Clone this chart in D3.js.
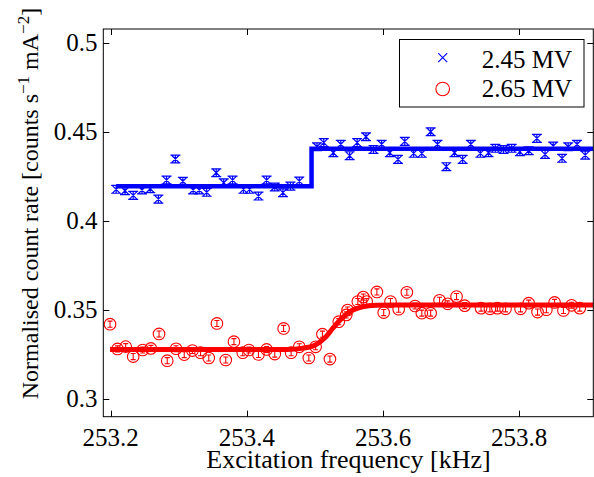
<!DOCTYPE html>
<html>
<head>
<meta charset="utf-8">
<script src="https://cdn.jsdelivr.net/npm/d3@7"></script>
<style>
  html, body { margin: 0; padding: 0; background: #fff; }
  svg { display: block; font-family: "Liberation Serif", "Times New Roman", serif; }
</style>
</head>
<body>
<svg id="chart" width="594" height="477"></svg>
<script>
// Measured count rates at 2.45 MV (blue, crosses)
const blueFreq = [253.208, 253.221, 253.233, 253.246, 253.258, 253.270, 253.282, 253.295, 253.306, 253.321,
  253.330, 253.341, 253.355, 253.366, 253.379, 253.395, 253.404, 253.417, 253.429, 253.441, 253.453, 253.464, 253.477,
  253.503, 253.513, 253.527, 253.538, 253.551, 253.562, 253.575, 253.586, 253.598, 253.610, 253.622, 253.632,
  253.645, 253.657, 253.670, 253.680, 253.693, 253.705, 253.717, 253.729, 253.743, 253.755, 253.765, 253.777,
  253.789, 253.801, 253.814, 253.826, 253.838, 253.850, 253.863, 253.872, 253.885, 253.897];
const blueRate = [0.4177, 0.4169, 0.4143, 0.4173, 0.4180, 0.4122, 0.4229, 0.4347, 0.4222, 0.4173,
  0.4173, 0.4160, 0.4270, 0.4214, 0.4229, 0.4177, 0.4177, 0.4139, 0.4229, 0.4190, 0.4158, 0.4195, 0.4223,
  0.4416, 0.4439, 0.4382, 0.4430, 0.4366, 0.4439, 0.4472, 0.4401, 0.4430, 0.4382, 0.4345, 0.4446,
  0.4379, 0.4379, 0.4500, 0.4430, 0.4304, 0.4382, 0.4345, 0.4430, 0.4379, 0.4382, 0.4407, 0.4401,
  0.4407, 0.4388, 0.4394, 0.4463, 0.4373, 0.4420, 0.4351, 0.4416, 0.4430, 0.4369];
const blueErr = 0.0022;

// Measured count rates at 2.65 MV (red, circles)
const redFreq = [253.199, 253.210, 253.222, 253.233, 253.247, 253.259, 253.271, 253.283, 253.296, 253.308,
  253.320, 253.332, 253.344, 253.356, 253.369, 253.381, 253.394, 253.403, 253.417, 253.429, 253.441, 253.454,
  253.465, 253.477, 253.491, 253.501, 253.511, 253.522, 253.535, 253.546, 253.548, 253.563, 253.571, 253.576,
  253.591, 253.601, 253.611, 253.623, 253.635, 253.647, 253.657, 253.670, 253.683, 253.695, 253.708,
  253.720, 253.744, 253.757, 253.768, 253.780, 253.802, 253.814, 253.827, 253.840, 253.852, 253.865, 253.877, 253.889];
const redRate = [0.3420, 0.3281, 0.3294, 0.3238, 0.3275, 0.3284, 0.3365, 0.3215, 0.3282, 0.3249,
  0.3272, 0.3260, 0.3230, 0.3424, 0.3219, 0.3322, 0.3260, 0.3275, 0.3250, 0.3278, 0.3252, 0.3396,
  0.3260, 0.3293, 0.3230, 0.3293, 0.3364, 0.3224, 0.3434, 0.3472, 0.3499, 0.3547, 0.3572, 0.3547,
  0.3601, 0.3485, 0.3547, 0.3504, 0.3599, 0.3522, 0.3482, 0.3482, 0.3554, 0.3534, 0.3575,
  0.3524, 0.3510, 0.3506, 0.3510, 0.3506, 0.3506, 0.3538, 0.3488, 0.3501, 0.3542, 0.3497, 0.3526, 0.3510];
const redErr = 0.0017;

// Fitted curves
const blueFitFreq = [253.208, 253.495, 253.495, 253.909];
const blueFitRate = [0.4194, 0.4194, 0.4405, 0.4405];
const redFitFreq = [253.199, 253.460, 253.480, 253.500, 253.515, 253.527, 253.540, 253.555, 253.570, 253.590, 253.620, 253.909];
const redFitRate = [0.3278, 0.3278, 0.3284, 0.3302, 0.3345, 0.3400, 0.3455, 0.3498, 0.3518, 0.3526, 0.3528, 0.3528];

// Axis ticks and labels
const xTicks = [253.2, 253.4, 253.6, 253.8];
const yTicks = [0.3, 0.35, 0.4, 0.45, 0.5];
const legendLabels = ["2.45 MV", "2.65 MV"];

const svg = d3.select("#chart");
const margin = {left: 103.3, top: 29, right: 0.7, bottom: 60.3};
const W = 594, H = 477;
const x = d3.scaleLinear().domain([253.1891, 253.9089]).range([margin.left, W - margin.right]);
const y = d3.scaleLinear().domain([0.29006, 0.50769]).range([H - margin.bottom, margin.top]);

const BLUE = "#0000ff", RED = "#ff0000";
const FS = 25;

const clipId = "plotclip";
svg.append("defs").append("clipPath").attr("id", clipId)
  .append("rect")
  .attr("x", margin.left).attr("y", margin.top)
  .attr("width", W - margin.left - margin.right)
  .attr("height", H - margin.top - margin.bottom);

const plot = svg.append("g").attr("clip-path", `url(#${clipId})`);

// Fit lines
const line = d3.line().x(d => x(d[0])).y(d => y(d[1]));
plot.append("path")
  .attr("d", line(blueFitFreq.map((f, i) => [f, blueFitRate[i]])))
  .attr("fill", "none").attr("stroke", BLUE).attr("stroke-width", 4.5);
plot.append("path")
  .attr("d", line.curve(d3.curveMonotoneX)(redFitFreq.map((f, i) => [f, redFitRate[i]])))
  .attr("fill", "none").attr("stroke", RED).attr("stroke-width", 5);

// Blue crosses with error bars
const blueG = plot.append("g").attr("stroke", BLUE).attr("stroke-width", 1.2).attr("fill", "none");
blueFreq.forEach((f, i) => {
  const cx = x(f), cy = y(blueRate[i]);
  const top = y(blueRate[i] + blueErr), bot = y(blueRate[i] - blueErr);
  const cw = 5, m = 4;
  blueG.append("path").attr("d",
    `M${cx},${top}V${bot}M${cx - cw},${top}H${cx + cw}M${cx - cw},${bot}H${cx + cw}` +
    `M${cx - m},${cy - m}L${cx + m},${cy + m}M${cx - m},${cy + m}L${cx + m},${cy - m}`);
});

// Red circles with error bars
const redG = plot.append("g").attr("stroke", RED).attr("stroke-width", 1.1).attr("fill", "none");
redFreq.forEach((f, i) => {
  const cx = x(f), cy = y(redRate[i]);
  const top = y(redRate[i] + redErr), bot = y(redRate[i] - redErr);
  const cw = 2.5;
  redG.append("path").attr("d",
    `M${cx},${top}V${bot}M${cx - cw},${top}H${cx + cw}M${cx - cw},${bot}H${cx + cw}`);
  redG.append("circle").attr("cx", cx).attr("cy", cy).attr("r", 5.8);
});

// Axes box with inward ticks on all sides
const axG = svg.append("g").attr("stroke", "#000").attr("fill", "none").attr("stroke-width", 1);
const x0 = margin.left, x1 = W - margin.right, y0 = H - margin.bottom, y1 = margin.top;
axG.append("rect").attr("x", x0).attr("y", y1).attr("width", x1 - x0).attr("height", y0 - y1);
const TL = 6;
xTicks.forEach(t => {
  const px = Math.round(x(t)) + 0.5;
  axG.append("path").attr("d", `M${px},${y0}V${y0 - TL}M${px},${y1}V${y1 + TL}`);
});
yTicks.forEach(t => {
  const py = Math.round(y(t)) + 0.5;
  axG.append("path").attr("d", `M${x0},${py}H${x0 + TL}M${x1},${py}H${x1 - TL}`);
});

// Tick labels
const fmtX = d3.format(".1f");
svg.append("g").selectAll("text").data(xTicks).join("text")
  .attr("x", d => x(d)).attr("y", 446)
  .attr("text-anchor", "middle").attr("font-size", FS).text(d => fmtX(d));
svg.append("g").selectAll("text").data(yTicks).join("text")
  .attr("x", 97.5).attr("y", d => y(d)).attr("dy", "0.33em")
  .attr("text-anchor", "end").attr("font-size", FS).text(d => String(d));

// Axis titles
svg.append("text").attr("x", 348.5).attr("y", 468)
  .attr("text-anchor", "middle").attr("font-size", 26)
  .text("Excitation frequency [kHz]");

const yl = svg.append("text")
  .attr("transform", "translate(38,203.5) rotate(-90)")
  .attr("text-anchor", "middle").attr("font-size", 24);
yl.append("tspan").text("Normalised count rate [counts s");
yl.append("tspan").attr("dy", -9).attr("font-size", 17).text("\u22121");
yl.append("tspan").attr("dy", 9).text(" mA");
yl.append("tspan").attr("dy", -9).attr("font-size", 17).text("\u22122");
yl.append("tspan").attr("dy", 9).text("]");

// Legend
const lg = svg.append("g");
lg.append("rect").attr("x", 399.5).attr("y", 39.5).attr("width", 184.5).attr("height", 67.5)
  .attr("fill", "#fff").attr("stroke", "#000").attr("stroke-width", 1);
const lm = 4.5, lx = 442.7, ly1 = 57.7, ly2 = 89;
lg.append("path")
  .attr("d", `M${lx - lm},${ly1 - lm}L${lx + lm},${ly1 + lm}M${lx - lm},${ly1 + lm}L${lx + lm},${ly1 - lm}`)
  .attr("stroke", BLUE).attr("stroke-width", 1.1).attr("fill", "none");
lg.append("circle").attr("cx", lx).attr("cy", ly2).attr("r", 6.8)
  .attr("stroke", RED).attr("stroke-width", 1.1).attr("fill", "none");
lg.selectAll("text.lab").data(legendLabels).join("text")
  .attr("class", "lab")
  .attr("x", 481.7).attr("y", (d, i) => [67.7, 96.7][i])
  .attr("font-size", FS).text(d => d);
</script>
</body>
</html>
